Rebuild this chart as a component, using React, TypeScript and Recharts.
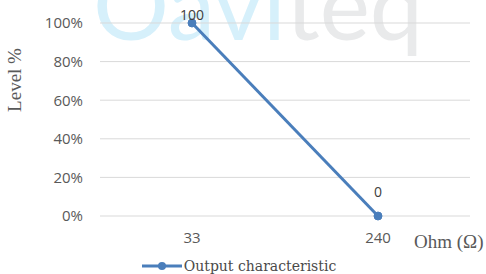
import { LineChart, Line, XAxis, YAxis, CartesianGrid, Legend, LabelList } from 'recharts';

const categories = ['33', '240'];
const levelValues = [100, 0];
const yTicks = [0, 20, 40, 60, 80, 100];
const seriesName = 'Output characteristic';

const data = categories.map((ohm, i) => ({ ohm, level: levelValues[i] }));

const BLUE = '#4a7ebb';
const TICK = { fontSize: 15, fill: '#595959', fontFamily: 'Open Sans' };

function PointLabel(props: any) {
  const { x, y, value, index } = props;
  const lift = index === 0 ? 3 : 19;
  return (
    <text x={x} y={y - lift} textAnchor="middle" fontSize={14} fill="#404040" fontFamily="Open Sans">
      {value}
    </text>
  );
}

function LegendBox() {
  return (
    <div style={{ height: 28, paddingTop: 12, boxSizing: 'border-box', display: 'flex', justifyContent: 'center', paddingLeft: 8 }}>
      <svg width={42} height={16}>
        <line x1={0} y1={8} x2={40} y2={8} stroke={BLUE} strokeWidth={3} />
        <circle cx={20} cy={8} r={4} fill={BLUE} />
      </svg>
      <span style={{ fontFamily: 'DejaVu Serif', fontSize: 14, lineHeight: '16px', color: '#4a4a4a' }}>{seriesName}</span>
    </div>
  );
}

export default function App() {
  return (
    <div style={{ position: 'absolute', left: 0, top: 0, width: 486, height: 274, background: '#fff' }}>
      <svg width={486} height={274} style={{ position: 'absolute', left: 0, top: 0 }}>
        <text x={93} y={40} fontFamily="Lato" fontSize={95}>
          <tspan fill="#d6f0fb">Oavi</tspan>
          <tspan fill="#e9eaeb">teq</tspan>
        </text>
        <text
          x={0}
          y={0}
          transform="translate(21 80) rotate(-90)"
          textAnchor="middle"
          fontFamily="Liberation Serif"
          fontSize={19}
          fill="#595959"
        >
          Level %
        </text>
        <text x={414} y={248} fontFamily="Liberation Serif" fontSize={19} fill="#595959">
          Ohm (Ω)
        </text>
      </svg>
      <div style={{ position: 'absolute', left: 0, top: 0 }}>
        <LineChart width={486} height={274} data={data} margin={{ top: 23, right: 16, left: 0, bottom: 0 }}>
          <CartesianGrid vertical={false} stroke="#d9d9d9" />
          <XAxis
            dataKey="ohm"
            axisLine={false}
            tickLine={false}
            height={30}
            tickMargin={10}
            tick={TICK}
            padding={{ left: 92, right: 92 }}
          />
          <YAxis
            width={100}
            domain={[0, 100]}
            ticks={yTicks}
            tickFormatter={(v: number) => `${v}%`}
            axisLine={false}
            tickLine={false}
            tickMargin={11}
            tick={TICK}
          />
          <Legend verticalAlign="bottom" height={28} content={() => <LegendBox />} />
          <Line
            dataKey="level"
            name={seriesName}
            stroke={BLUE}
            strokeWidth={3}
            dot={{ r: 4, fill: BLUE, stroke: BLUE, strokeWidth: 1 }}
            isAnimationActive={false}
          >
            <LabelList dataKey="level" content={<PointLabel />} />
          </Line>
        </LineChart>
      </div>
    </div>
  );
}
